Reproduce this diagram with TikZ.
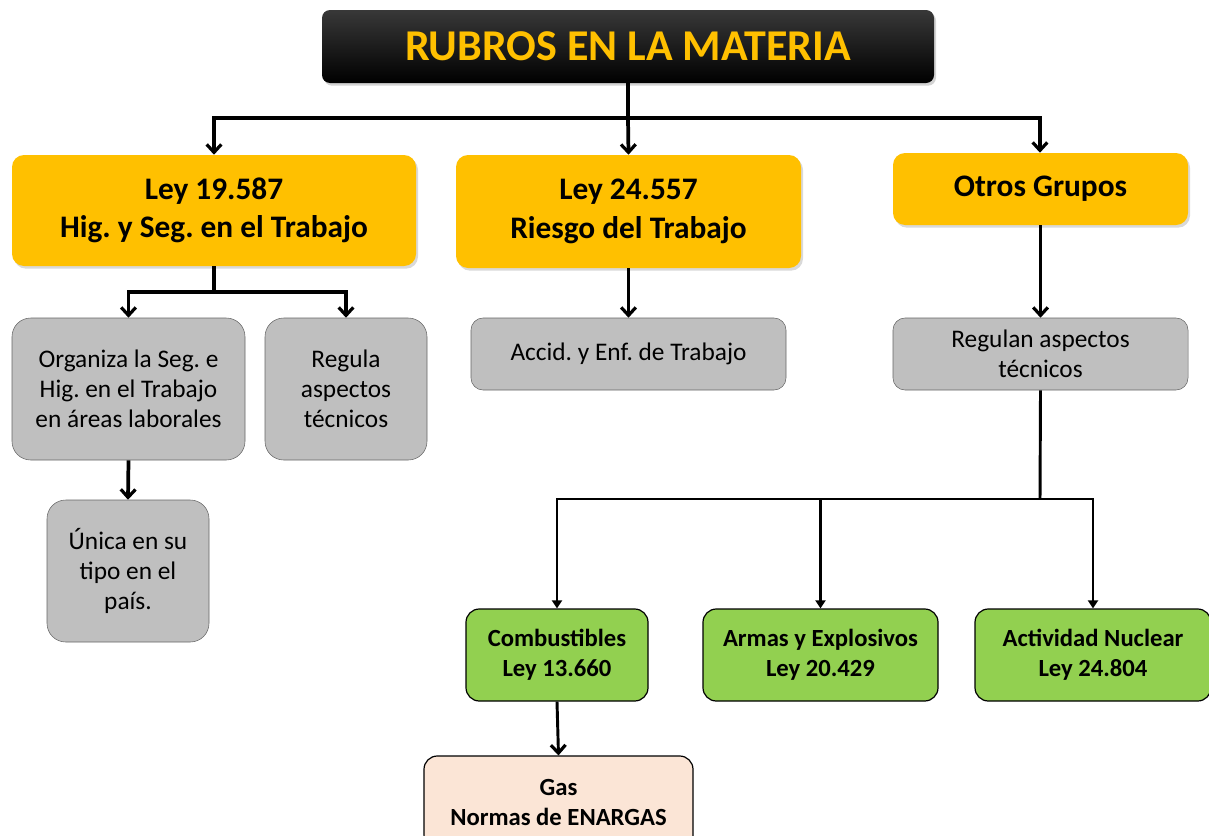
\documentclass[tikz,border=0pt]{standalone}
\usepackage{fontspec}
\setmainfont{Carlito}
\usepackage{tikz}
\usetikzlibrary{arrows.meta}
\usetikzlibrary{shadows}
\definecolor{oro}{HTML}{FFC000}
\definecolor{gris}{HTML}{BFBFBF}
\definecolor{verde}{HTML}{92D050}
\definecolor{salmon}{HTML}{FBE5D6}
\tikzset{head/.style={rectangle, rounded corners=6pt, top color=black!78, bottom color=black,
   text=oro, font=\fontsize{33}{40}\selectfont\bfseries,
   drop shadow={opacity=0.35, shadow xshift=1.5pt, shadow yshift=-2pt}}}
\tikzset{ley/.style={rectangle, rounded corners=9pt, fill=oro, align=center,
   font=\fontsize{23.5}{29}\selectfont\bfseries,
   drop shadow={opacity=0.3, shadow xshift=1.5pt, shadow yshift=-2pt}}}
\tikzset{info/.style={rectangle, rounded corners=14pt, fill=gris, draw=black!60, thin,
   align=center, font=\fontsize{19}{22.5}\selectfont}}
\tikzset{rama/.style={rectangle, rounded corners=10pt, fill=verde, draw=black, line width=0.9pt,
   align=center, font=\fontsize{18.5}{22.5}\selectfont\bfseries}}
\tikzset{wire/.style={line width=2.8pt}}
\tikzset{arr/.style={wire, -{Straight Barb[length=6pt, width=11pt, line width=2.4pt]}}}
\tikzset{arrt/.style={line width=2.2pt, -{Triangle[length=6pt, width=7.5pt]}}}
\begin{document}
\frenchspacing
\begin{tikzpicture}[x=0.75pt, y=-0.75pt]

    \useasboundingbox (0,0) rectangle (1209,835);
    \clip (0,0) rectangle (1209,835);

    \node[head, minimum width=459pt, minimum height=54.75pt] (titulo) at (628,46.5) {RUBROS EN LA MATERIA};

    \node[ley, minimum width=303pt, minimum height=83.25pt] (ley19) at (214,210.5) {Ley 19.587\\Hig. y Seg. en el Trabajo};
    \node[ley, minimum width=258.75pt, minimum height=84.75pt] (ley24) at (628.5,211.5) {Ley 24.557\\Riesgo del Trabajo};
    \node[ley, minimum width=221.25pt, minimum height=54pt] (otros) at (1040.5,189) {Otros Grupos};

    \node[info, minimum width=174.75pt, minimum height=106.5pt] (organiza) at (128.5,389) {Organiza la Seg. e\\Hig. en el Trabajo\\en áreas laborales};
    \node[info, minimum width=121.5pt, minimum height=106.5pt] (regula) at (346,389) {Regula\\aspectos\\técnicos};
    \node[info, rounded corners=9pt, minimum width=236.25pt, minimum height=54pt] (accid) at (628.5,354) {Accid. y Enf. de Trabajo};
    \node[info, rounded corners=9pt, minimum width=221.25pt, minimum height=54pt] (regulan) at (1040.5,354) {Regulan aspectos\\técnicos};
    \node[info, minimum width=121.5pt, minimum height=106.5pt] (unica) at (128,571) {Única en su\\tipo en el\\país.};

    \node[rama, minimum width=136.5pt, minimum height=69pt] (comb) at (557,655) {Combustibles\\Ley 13.660};
    \node[rama, minimum width=176.25pt, minimum height=69pt] (armas) at (820.5,655) {Armas y Explosivos\\Ley 20.429};
    \node[rama, minimum width=177pt, minimum height=69pt] (nuclear) at (1093,655) {Actividad Nuclear\\Ley 24.804};
    \node[rama, fill=salmon, minimum width=201.75pt, minimum height=69pt] (gas) at (558.5,802) {Gas\\Normas de ENARGAS};

    \coordinate (b1) at (628,118);
    \coordinate (b2) at (214,292);
    \coordinate (b3) at (1040,499);

    \draw[wire] (titulo.south) -- (b1);
    \draw[arr] (b1) -| (ley19.north);
    \draw[arr] (b1) -- (ley24.north);
    \draw[arr] (b1) -| ([xshift=-0.4pt]otros.north);

    \draw[wire] (ley19.south) -- (b2);
    \draw[arr] (b2) -| (organiza.north);
    \draw[arr] (b2) -| (regula.north);
    \draw[arr] (ley24.south) -- (accid.north);
    \draw[arr] (otros.south) -- (regulan.north);
    \draw[arr] (organiza.south) -- (unica.north);

    \draw[line width=2.2pt] (regulan.south) -- (b3);
    \draw[arrt] (b3) -| (comb.north);
    \draw[arrt] (b3) -| (armas.north);
    \draw[arrt] (b3) -| (nuclear.north);
    \draw[arr, line width=2.2pt] (comb.south) -- (gas.north);

  \end{tikzpicture}
\end{document}
